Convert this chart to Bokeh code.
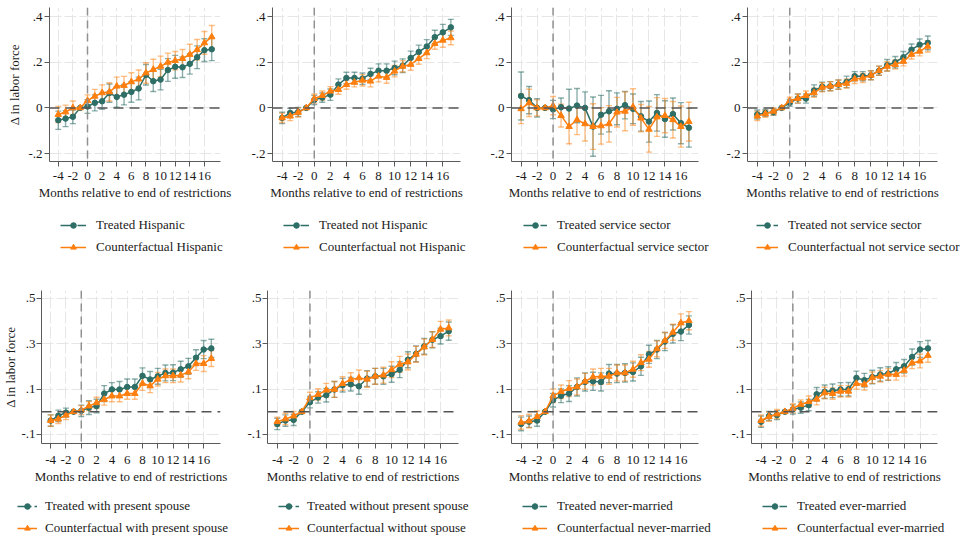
import math
from bokeh.plotting import figure
from bokeh.models import Range1d, FixedTicker, Legend, LegendItem, Span
from bokeh.layouts import row, column
from bokeh.embed import file_html
from bokeh.resources import INLINE

# ---------------- data ----------------
months = list(range(-4, 18))
x_ticks = [-4, -2, 0, 2, 4, 6, 8, 10, 12, 14, 16]
x_tick_labels = [str(t) for t in x_ticks]
top_y_ticks = [-0.2, 0, 0.2, 0.4]
top_y_labels = ["-.2", "0", ".2", ".4"]
bot_y_ticks = [-0.1, 0.1, 0.3, 0.5]
bot_y_labels = ["-.1", ".1", ".3", ".5"]

hisp_t = [-0.054, -0.047, -0.039, 0, 0.006, 0.022, 0.029, 0.065, 0.048, 0.058, 0.070, 0.085, 0.145, 0.117, 0.124, 0.166, 0.180, 0.178, 0.193, 0.222, 0.253, 0.257]
hisp_t_ci = [0.04, 0.035, 0.03, 0, 0.03, 0.035, 0.035, 0.04, 0.045, 0.045, 0.045, 0.05, 0.045, 0.045, 0.045, 0.05, 0.05, 0.045, 0.045, 0.05, 0.05, 0.05]
hisp_c = [-0.029, -0.018, 0.0, 0, 0.032, 0.051, 0.066, 0.070, 0.095, 0.098, 0.114, 0.126, 0.153, 0.168, 0.182, 0.200, 0.207, 0.216, 0.234, 0.255, 0.285, 0.311]
hisp_c_ci = [0.035, 0.03, 0.03, 0, 0.025, 0.03, 0.035, 0.04, 0.04, 0.04, 0.04, 0.04, 0.045, 0.045, 0.045, 0.04, 0.04, 0.04, 0.045, 0.045, 0.05, 0.05]

nhisp_t = [-0.044, -0.022, -0.018, 0, 0.035, 0.045, 0.058, 0.102, 0.131, 0.131, 0.128, 0.149, 0.163, 0.163, 0.175, 0.185, 0.219, 0.245, 0.269, 0.310, 0.331, 0.353]
nhisp_t_ci = [0.025, 0.02, 0.02, 0, 0.02, 0.02, 0.025, 0.025, 0.025, 0.025, 0.025, 0.025, 0.03, 0.03, 0.03, 0.03, 0.03, 0.03, 0.03, 0.03, 0.035, 0.035]
nhisp_c = [-0.044, -0.036, -0.020, 0, 0.041, 0.054, 0.073, 0.080, 0.102, 0.112, 0.121, 0.117, 0.139, 0.133, 0.161, 0.182, 0.190, 0.216, 0.241, 0.282, 0.296, 0.307]
nhisp_c_ci = [0.02, 0.02, 0.02, 0, 0.02, 0.02, 0.02, 0.02, 0.02, 0.02, 0.025, 0.025, 0.025, 0.025, 0.025, 0.025, 0.025, 0.025, 0.025, 0.025, 0.03, 0.03]

serv_t = [0.052, 0.034, 0.0, 0, -0.007, 0.003, -0.003, 0.010, 0.0, -0.082, -0.030, -0.015, -0.004, 0.012, -0.004, -0.037, -0.060, -0.022, -0.049, -0.027, -0.067, -0.087]
serv_t_ci = [0.105, 0.06, 0.04, 0, 0.04, 0.04, 0.085, 0.075, 0.07, 0.13, 0.085, 0.09, 0.07, 0.06, 0.065, 0.065, 0.09, 0.08, 0.08, 0.07, 0.09, 0.085]
serv_c = [-0.004, 0.022, 0.0, 0, 0.010, -0.034, -0.082, -0.052, -0.070, -0.082, -0.079, -0.070, -0.019, -0.015, 0.004, -0.045, -0.094, -0.040, -0.034, -0.052, -0.082, -0.060]
serv_c_ci = [0.065, 0.06, 0.035, 0, 0.04, 0.05, 0.075, 0.065, 0.075, 0.1, 0.08, 0.08, 0.065, 0.085, 0.08, 0.06, 0.1, 0.085, 0.075, 0.08, 0.09, 0.085]

nserv_t = [-0.029, -0.022, -0.018, 0, 0.022, 0.041, 0.041, 0.076, 0.093, 0.095, 0.102, 0.114, 0.139, 0.139, 0.143, 0.163, 0.187, 0.200, 0.222, 0.255, 0.277, 0.285]
nserv_t_ci = [0.02, 0.015, 0.015, 0, 0.015, 0.02, 0.02, 0.025, 0.02, 0.02, 0.02, 0.025, 0.02, 0.02, 0.02, 0.02, 0.025, 0.025, 0.025, 0.025, 0.025, 0.03]
nserv_c = [-0.036, -0.026, -0.015, 0, 0.032, 0.041, 0.054, 0.066, 0.090, 0.095, 0.102, 0.107, 0.127, 0.131, 0.143, 0.163, 0.182, 0.190, 0.204, 0.234, 0.248, 0.270]
nserv_c_ci = [0.02, 0.015, 0.015, 0, 0.015, 0.02, 0.02, 0.02, 0.02, 0.02, 0.02, 0.02, 0.02, 0.02, 0.02, 0.02, 0.02, 0.02, 0.02, 0.02, 0.02, 0.025]

spouse_t = [-0.039, -0.018, -0.004, 0, 0.004, 0.018, 0.025, 0.080, 0.098, 0.098, 0.109, 0.109, 0.158, 0.142, 0.156, 0.171, 0.172, 0.187, 0.200, 0.238, 0.274, 0.279]
spouse_t_ci = [0.025, 0.025, 0.02, 0, 0.025, 0.03, 0.03, 0.035, 0.03, 0.035, 0.035, 0.035, 0.035, 0.035, 0.035, 0.035, 0.035, 0.035, 0.035, 0.035, 0.04, 0.04]
spouse_c = [-0.039, -0.032, -0.015, 0, 0.007, 0.025, 0.039, 0.054, 0.069, 0.069, 0.080, 0.080, 0.124, 0.114, 0.143, 0.158, 0.158, 0.161, 0.175, 0.212, 0.212, 0.234]
spouse_c_ci = [0.025, 0.02, 0.02, 0, 0.02, 0.02, 0.025, 0.025, 0.025, 0.025, 0.025, 0.025, 0.03, 0.03, 0.03, 0.03, 0.03, 0.03, 0.03, 0.03, 0.035, 0.035]

nospouse_t = [-0.054, -0.039, -0.036, 0, 0.042, 0.063, 0.073, 0.098, 0.117, 0.121, 0.112, 0.146, 0.156, 0.156, 0.165, 0.185, 0.229, 0.255, 0.288, 0.317, 0.333, 0.355]
nospouse_t_ci = [0.025, 0.025, 0.025, 0, 0.025, 0.025, 0.03, 0.035, 0.03, 0.03, 0.035, 0.035, 0.035, 0.035, 0.035, 0.035, 0.035, 0.035, 0.035, 0.035, 0.035, 0.04]
nospouse_c = [-0.044, -0.032, -0.019, 0, 0.061, 0.076, 0.095, 0.098, 0.124, 0.142, 0.149, 0.143, 0.156, 0.161, 0.185, 0.209, 0.219, 0.253, 0.285, 0.318, 0.363, 0.369]
nospouse_c_ci = [0.02, 0.025, 0.02, 0, 0.025, 0.025, 0.03, 0.035, 0.03, 0.03, 0.035, 0.035, 0.035, 0.035, 0.035, 0.035, 0.035, 0.035, 0.035, 0.035, 0.035, 0.035]

never_t = [-0.054, -0.044, -0.039, 0, 0.051, 0.070, 0.080, 0.109, 0.131, 0.134, 0.131, 0.168, 0.168, 0.171, 0.175, 0.200, 0.253, 0.274, 0.309, 0.343, 0.353, 0.382]
never_t_ci = [0.03, 0.025, 0.025, 0, 0.03, 0.03, 0.035, 0.04, 0.04, 0.04, 0.04, 0.04, 0.04, 0.04, 0.04, 0.04, 0.04, 0.04, 0.04, 0.04, 0.04, 0.04]
never_c = [-0.047, -0.041, -0.022, 0, 0.070, 0.088, 0.102, 0.109, 0.134, 0.153, 0.156, 0.156, 0.171, 0.171, 0.187, 0.216, 0.231, 0.277, 0.314, 0.350, 0.391, 0.401]
never_c_ci = [0.03, 0.03, 0.025, 0, 0.03, 0.03, 0.035, 0.035, 0.035, 0.035, 0.035, 0.035, 0.035, 0.035, 0.035, 0.035, 0.035, 0.035, 0.035, 0.035, 0.04, 0.04]

ever_t = [-0.044, -0.019, -0.015, 0, 0.010, 0.018, 0.029, 0.077, 0.088, 0.092, 0.098, 0.099, 0.149, 0.139, 0.153, 0.164, 0.168, 0.187, 0.200, 0.241, 0.274, 0.279]
ever_t_ci = [0.025, 0.02, 0.02, 0, 0.02, 0.025, 0.025, 0.03, 0.03, 0.03, 0.03, 0.03, 0.03, 0.03, 0.03, 0.03, 0.03, 0.03, 0.03, 0.035, 0.035, 0.035]
ever_c = [-0.039, -0.022, -0.010, 0, 0.015, 0.032, 0.044, 0.055, 0.083, 0.080, 0.090, 0.090, 0.124, 0.120, 0.150, 0.156, 0.165, 0.164, 0.182, 0.215, 0.223, 0.248]
ever_c_ci = [0.025, 0.02, 0.02, 0, 0.02, 0.02, 0.025, 0.025, 0.025, 0.025, 0.025, 0.025, 0.025, 0.025, 0.025, 0.025, 0.025, 0.025, 0.025, 0.025, 0.03, 0.03]

labels_treated = ["Treated Hispanic", "Treated not Hispanic", "Treated service sector", "Treated not service sector",
                  "Treated with present spouse", "Treated without present spouse", "Treated never-married", "Treated ever-married"]
labels_cf = ["Counterfactual Hispanic", "Counterfactual not Hispanic", "Counterfactual service sector", "Counterfactual not service sector",
             "Counterfactual with present spouse", "Counterfactual without spouse", "Counterfactual never-married", "Counterfactual ever-married"]

x_title = "Months relative to end of restrictions"
y_title = "\u0394 in labor force"

# ---------------- style ----------------
TEAL = "#2d6e66"
ORANGE = "#ff7f0e"
FONT = "Liberation Serif"
TXT = "#1a1a1a"
AX = "#5a5a5a"
NAN = float("nan")


def make_panel(t, t_ci, c, c_ci, yr, yticks, ylabels, ytitle,
               width, height, left, right, top, bottom, ylab_standoff, ytitle_standoff, xlab_standoff):
    p = figure(width=width, height=height, output_backend="svg", toolbar_location=None,
               x_range=Range1d(-5.2, 18.2), y_range=Range1d(yr[0], yr[1]),
               min_border_left=left, min_border_right=right,
               min_border_top=top, min_border_bottom=bottom, frame_align=False)
    p.outline_line_color = None
    p.background_fill_color = "white"
    p.border_fill_color = "white"

    p.xaxis.ticker = FixedTicker(ticks=x_ticks)
    p.xaxis.major_label_overrides = dict(zip(x_ticks, x_tick_labels))
    p.yaxis.ticker = FixedTicker(ticks=yticks)
    p.yaxis.major_label_overrides = dict(zip(yticks, ylabels))
    for ax in (p.xaxis[0], p.yaxis[0]):
        ax.axis_line_color = AX
        ax.major_tick_line_color = AX
        ax.minor_tick_line_color = None
        ax.major_tick_out = 5
        ax.major_tick_in = 0
        ax.major_label_text_font = FONT
        ax.major_label_text_font_size = "13px"
        ax.major_label_text_color = TXT
        ax.axis_label_text_font = FONT
        ax.axis_label_text_font_size = "13px"
        ax.axis_label_text_font_style = "normal"
        ax.axis_label_text_color = TXT
    p.xaxis.major_label_standoff = xlab_standoff
    p.yaxis.major_label_standoff = ylab_standoff
    p.xaxis.axis_label = x_title
    p.xaxis.axis_label_standoff = 2
    if ytitle:
        p.yaxis.axis_label = y_title
        p.yaxis.axis_label_standoff = ytitle_standoff

    p.xgrid.ticker = FixedTicker(ticks=x_ticks)
    p.ygrid.ticker = FixedTicker(ticks=yticks)
    for g in (p.xgrid[0], p.ygrid[0]):
        g.grid_line_color = "#e6e6e6"
        g.grid_line_dash = "12 3"
        g.grid_line_width = 1

    p.add_layout(Span(location=0, dimension="height", line_color="#909090", line_dash="8 5", line_width=1.5))
    p.add_layout(Span(location=0, dimension="width", line_color="#555555", line_dash="10 6", line_width=1.5))

    t_lo = [v - e for v, e in zip(t, t_ci)]
    t_hi = [v + e for v, e in zip(t, t_ci)]
    c_lo = [v - e for v, e in zip(c, c_ci)]
    c_hi = [v + e for v, e in zip(c, c_ci)]

    p.segment(months, t_lo, months, t_hi, line_color=TEAL, line_alpha=0.55, line_width=1.4)
    p.scatter(months, t_lo, marker="dash", size=6, line_color=TEAL, line_alpha=0.55, line_width=1.4)
    p.scatter(months, t_hi, marker="dash", size=6, line_color=TEAL, line_alpha=0.55, line_width=1.4)
    p.segment(months, c_lo, months, c_hi, line_color=ORANGE, line_alpha=0.5, line_width=1.4)
    p.scatter(months, c_lo, marker="dash", size=6, line_color=ORANGE, line_alpha=0.5, line_width=1.4)
    p.scatter(months, c_hi, marker="dash", size=6, line_color=ORANGE, line_alpha=0.5, line_width=1.4)

    p.line(months, t, line_color=TEAL, line_width=1.5)
    p.scatter(months, t, marker="circle", size=5.5, fill_color=TEAL, line_color=TEAL)
    p.line(months, c, line_color=ORANGE, line_width=1.5)
    p.scatter(months, c, marker="triangle", size=6.5, fill_color=ORANGE, line_color=ORANGE)
    return p


def make_legend(lab_t, lab_c, width, height, dx, dy, gw, standoff):
    f = figure(width=width, height=height, output_backend="svg", toolbar_location=None,
               x_range=Range1d(0, 1), y_range=Range1d(0, 1),
               x_axis_type=None, y_axis_type=None, min_border=0, frame_align=False)
    f.outline_line_color = None
    f.background_fill_color = "white"
    f.border_fill_color = "white"
    # legend proxies (no visible data)
    lt = f.line([NAN], [NAN], line_color=TEAL, line_width=1.5, line_dash="14 3")
    st = f.scatter([NAN], [NAN], marker="circle", size=5.5, fill_color=TEAL, line_color=TEAL)
    lc = f.line([NAN], [NAN], line_color=ORANGE, line_width=1.5)
    sc = f.scatter([NAN], [NAN], marker="triangle", size=6.5, fill_color=ORANGE, line_color=ORANGE)
    leg = Legend(items=[LegendItem(label=lab_t, renderers=[lt, st], index=0),
                        LegendItem(label=lab_c, renderers=[lc, sc], index=0)],
                 location=(dx, dy), orientation="vertical")
    leg.border_line_alpha = 0
    leg.background_fill_alpha = 0
    leg.padding = 0
    leg.margin = 0
    leg.spacing = 2
    leg.glyph_width = gw
    leg.glyph_height = 14
    leg.label_height = 20
    leg.label_standoff = standoff
    leg.label_text_font = FONT
    leg.label_text_font_size = "13px"
    leg.label_text_color = TXT
    f.add_layout(leg)
    return f


col_widths = [240, 240, 240, 245]
top_left = [49, 32, 31, 27]
top_right = [20, 20, 22, 28]
top_dx = [60, 43, 43, 36]
top_gw = [26, 26, 24, 22]
top_so = [10, 10, 10, 10]
bot_left = [41, 27, 31, 31]
bot_right = [20, 22, 22, 28]
bot_dx = [17, 38, 42, 42]
bot_gw = [20, 21, 25, 25]
bot_so = [8, 8, 10, 10]

top_series = [(hisp_t, hisp_t_ci, hisp_c, hisp_c_ci), (nhisp_t, nhisp_t_ci, nhisp_c, nhisp_c_ci),
              (serv_t, serv_t_ci, serv_c, serv_c_ci), (nserv_t, nserv_t_ci, nserv_c, nserv_c_ci)]
bot_series = [(spouse_t, spouse_t_ci, spouse_c, spouse_c_ci), (nospouse_t, nospouse_t_ci, nospouse_c, nospouse_c_ci),
              (never_t, never_t_ci, never_c, never_c_ci), (ever_t, ever_t_ci, ever_c, ever_c_ci)]

top_cells, bot_cells = [], []
for i in range(4):
    t, tci, c, cci = top_series[i]
    p = make_panel(t, tci, c, cci, (-0.235, 0.44), top_y_ticks, top_y_labels, i == 0,
                   col_widths[i], 211, top_left[i], top_right[i], 7, 50, 2, 3, 5)
    l = make_legend(labels_treated[i], labels_cf[i], col_widths[i], 59, top_dx[i], 13, top_gw[i], top_so[i])
    top_cells.append(column(p, l, spacing=0))
    t, tci, c, cci = bot_series[i]
    p = make_panel(t, tci, c, cci, (-0.14, 0.534), bot_y_ticks, bot_y_labels, i == 0,
                   col_widths[i], 223, bot_left[i], bot_right[i], 20, 50, 1, 0, 7)
    l = make_legend(labels_treated[4 + i], labels_cf[4 + i], col_widths[i], 49, bot_dx[i], 4, bot_gw[i], bot_so[i])
    bot_cells.append(column(p, l, spacing=0))

layout = column(row(*top_cells, spacing=0), row(*bot_cells, spacing=0), spacing=0)
open("out.html", "w").write(file_html(layout, INLINE))
